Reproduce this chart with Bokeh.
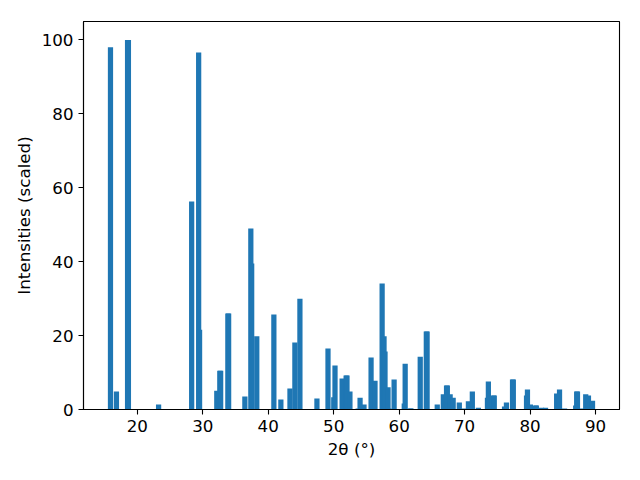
from bokeh.plotting import figure
from bokeh.models import FixedTicker, Range1d
from bokeh.embed import file_html
from bokeh.resources import INLINE

two_theta = [15.90, 16.81, 18.51, 18.64, 23.25, 28.30, 29.37, 29.51, 32.14, 32.60,
             32.73, 33.83, 33.95, 36.43, 37.34, 37.47, 38.25, 40.86, 41.93, 43.32,
             44.07, 44.84, 47.44, 49.13, 50.01, 50.20, 51.29, 51.90, 52.03, 52.48,
             53.74, 54.03, 54.63, 55.71, 56.31, 57.40, 57.69, 57.84, 58.30, 58.45,
             59.23, 60.78, 60.92, 61.70, 61.82, 63.22, 64.15, 64.27, 65.82, 66.75,
             67.24, 67.36, 67.79, 68.25, 69.19, 69.97, 70.58, 71.18, 72.10, 73.49,
             73.63, 74.41, 74.53, 76.10, 76.39, 77.32, 77.44, 79.46, 79.60, 80.05,
             80.84, 80.96, 81.76, 82.36, 84.06, 84.50, 85.27, 86.97, 87.12, 87.24,
             87.95, 88.50, 88.92, 89.54]
intensity = [98.0, 4.9, 100.0, 100.0, 1.35, 56.3, 96.6, 21.6, 5.1, 10.5,
             10.5, 26.0, 26.0, 3.5, 49.0, 39.5, 19.8, 25.7, 2.7, 5.7,
             18.1, 30.0, 3.0, 16.5, 3.3, 11.9, 8.4, 9.2, 9.2, 4.9,
             0.3, 3.2, 1.35, 14.1, 7.8, 34.1, 19.8, 15.7, 6.0, 0.3,
             8.1, 1.6, 12.4, 0.3, 0.3, 14.3, 21.1, 21.1, 1.35, 4.1,
             6.5, 6.5, 4.1, 3.2, 1.9, 0.3, 2.2, 4.9, 0.5, 3.2,
             7.6, 3.8, 3.8, 0.8, 1.9, 8.1, 8.1, 3.8, 5.4, 1.35,
             1.1, 1.1, 0.5, 0.5, 4.3, 5.4, 0.3, 1.1, 4.9, 4.9,
             0.3, 4.1, 3.8, 2.4]
x_ticks = [20, 30, 40, 50, 60, 70, 80, 90]
y_ticks = [0, 20, 40, 60, 80, 100]

bar_width = 0.8
lo = min(two_theta) - bar_width / 2
hi = max(two_theta) + bar_width / 2
pad = 0.05 * (hi - lo)

p = figure(width=640, height=480, output_backend="svg", toolbar_location=None,
           x_range=Range1d(lo - pad, hi + pad), y_range=Range1d(0, 1.05 * max(intensity)),
           min_border_left=83, min_border_right=21, min_border_top=21, min_border_bottom=71)

p.vbar(x=two_theta, top=intensity, width=bar_width, color="#1f77b4", line_color=None)

p.xgrid.visible = False
p.ygrid.visible = False
p.outline_line_color = "black"
p.outline_line_width = 1.1
p.background_fill_color = "white"
p.border_fill_color = "white"

for ax in (p.xaxis[0], p.yaxis[0]):
    ax.axis_line_color = "black"
    ax.axis_line_width = 1.1
    ax.major_tick_line_color = "black"
    ax.major_tick_line_width = 1.1
    ax.major_tick_in = 0
    ax.major_tick_out = 5
    ax.minor_tick_line_color = None
    ax.major_label_text_font = "DejaVu Sans"
    ax.major_label_text_font_size = "16.7px"
    ax.major_label_text_color = "black"
    ax.axis_label_text_font = "DejaVu Sans"
    ax.axis_label_text_font_size = "16.7px"
    ax.axis_label_text_font_style = "normal"
    ax.axis_label_text_color = "black"
    ax.major_label_standoff = 5

p.xaxis.ticker = FixedTicker(ticks=x_ticks)
p.yaxis.ticker = FixedTicker(ticks=y_ticks)
p.xaxis.axis_label = "2θ (°)"
p.yaxis.axis_label = "Intensities (scaled)"
p.xaxis.axis_label_standoff = 4
p.yaxis.axis_label_standoff = 5

open("out.html", "w").write(file_html(p, INLINE))
